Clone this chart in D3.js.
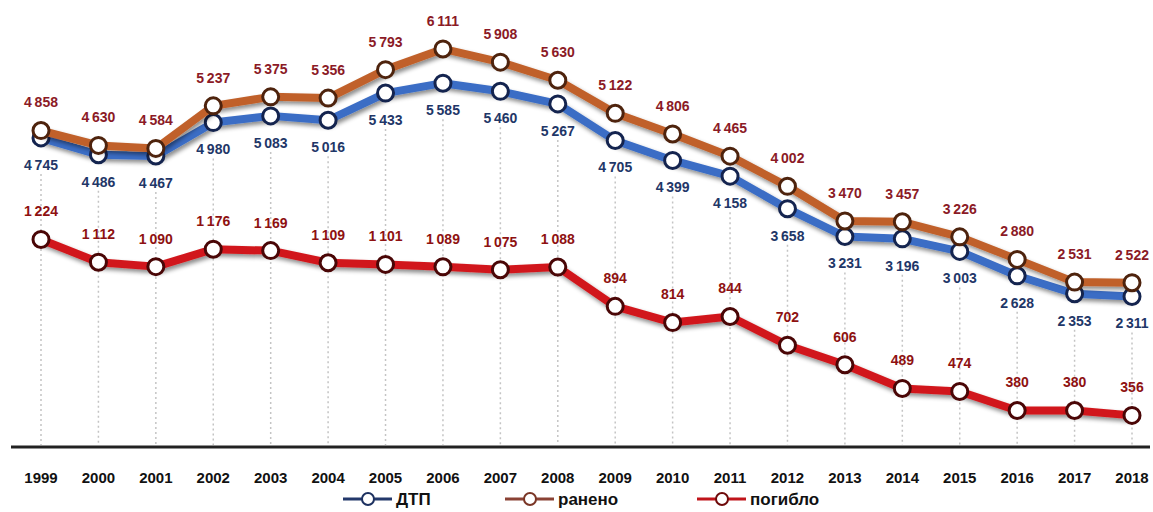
<!DOCTYPE html>
<html>
<head>
<meta charset="utf-8">
<script src="https://cdn.jsdelivr.net/npm/d3@7"></script>
<style>
  html, body { margin: 0; padding: 0; background: #fff; }
  svg { display: block; }
</style>
</head>
<body>
<div id="chart"></div>
<script>
const years = ['1999','2000','2001','2002','2003','2004','2005','2006','2007','2008',
               '2009','2010','2011','2012','2013','2014','2015','2016','2017','2018'];
const dtp     = [4745, 4486, 4467, 4980, 5083, 5016, 5433, 5585, 5460, 5267,
                 4705, 4399, 4158, 3658, 3231, 3196, 3003, 2628, 2353, 2311];
const injured = [4858, 4630, 4584, 5237, 5375, 5356, 5793, 6111, 5908, 5630,
                 5122, 4806, 4465, 4002, 3470, 3457, 3226, 2880, 2531, 2522];
const killed  = [1224, 1112, 1090, 1176, 1169, 1109, 1101, 1089, 1075, 1088,
                 894, 814, 844, 702, 606, 489, 474, 380, 380, 356];

const width = 1153, height = 512;
const baseY = 447;

const svg = d3.select('#chart').append('svg')
  .attr('width', width)
  .attr('height', height);

// shadow under the thick lines
const defs = svg.append('defs');
const f = defs.append('filter').attr('id', 'shadow')
  .attr('x', '-5%').attr('y', '-20%').attr('width', '110%').attr('height', '140%');
f.append('feDropShadow')
  .attr('dx', 2).attr('dy', 3).attr('stdDeviation', 2)
  .attr('flood-color', '#000').attr('flood-opacity', 0.45);

const x = d3.scalePoint().domain(years).range([41, 1132]);
// main axis (ДТП, ранено) and secondary axis (погибло)
const y1 = d3.scaleLinear().domain([0, 7000]).range([baseY, -9]);
const y2 = d3.scaleLinear().domain([200, 2450]).range([baseY, -9]);

const fmt = v => d3.format(',')(v).replace(',', '\u2009');
const labelFont = '"Liberation Sans", Arial, sans-serif';

// dotted drop lines
svg.append('g').selectAll('line')
  .data(years)
  .enter().append('line')
  .attr('x1', d => x(d)).attr('x2', d => x(d))
  .attr('y1', (d, i) => y1(dtp[i]) + 36)
  .attr('y2', baseY - 2)
  .attr('stroke', '#c4c4c4')
  .attr('stroke-width', 1.5)
  .attr('stroke-dasharray', '2,3');

// baseline
svg.append('line')
  .attr('x1', 11).attr('x2', 1150)
  .attr('y1', baseY).attr('y2', baseY)
  .attr('stroke', '#222').attr('stroke-width', 3);

// year labels
svg.append('g').selectAll('text')
  .data(years)
  .enter().append('text')
  .attr('x', d => x(d))
  .attr('y', 478)
  .attr('dy', '0.35em')
  .attr('text-anchor', 'middle')
  .style('font-family', labelFont)
  .style('font-size', '15px')
  .style('font-weight', 'bold')
  .style('fill', '#111')
  .text(d => d);

const series = [
  { name: 'погибло', values: killed, y: y2, line: '#d1181c', ring: '#4a0606', label: '#8e1111', dy: -28 },
  { name: 'ДТП', values: dtp, y: y1, line: '#3b6dc5', ring: '#14244f', label: '#1f3768', dy: 27 },
  { name: 'ранено', values: injured, y: y1, line: '#c0612b', ring: '#4e230d', label: '#8b1a26', dy: -28 }
];

series.forEach(s => {
  const g = svg.append('g');
  const line = d3.line()
    .x((d, i) => x(years[i]))
    .y(d => s.y(d));

  g.append('path')
    .datum(s.values)
    .attr('d', line)
    .attr('fill', 'none')
    .attr('stroke', s.line)
    .attr('stroke-width', 8)
    .attr('stroke-linejoin', 'round')
    .attr('filter', 'url(#shadow)');

  g.selectAll('circle')
    .data(s.values)
    .enter().append('circle')
    .attr('cx', (d, i) => x(years[i]))
    .attr('cy', d => s.y(d))
    .attr('r', 8)
    .attr('fill', '#fff')
    .attr('stroke', s.ring)
    .attr('stroke-width', 3);
});

// data labels on top
series.forEach(s => {
  svg.append('g').selectAll('text')
    .data(s.values)
    .enter().append('text')
    .attr('x', (d, i) => x(years[i]))
    .attr('y', d => s.y(d) + s.dy)
    .attr('dy', '0.35em')
    .attr('text-anchor', 'middle')
    .style('font-family', labelFont)
    .style('font-size', '14px')
    .style('font-weight', 'bold')
    .style('fill', s.label)
    .text(d => fmt(d));
});

// legend
const legend = [
  { name: 'ДТП', x: 343, line: '#23386b', ring: '#1d3160' },
  { name: 'ранено', x: 505, line: '#8a4234', ring: '#7a3626' },
  { name: 'погибло', x: 697, line: '#c0141a', ring: '#6e0a0a' }
];
const lg = svg.append('g').selectAll('g')
  .data(legend)
  .enter().append('g')
  .attr('transform', d => `translate(${d.x},499)`);

lg.append('line')
  .attr('x1', 0).attr('x2', 49)
  .attr('stroke', d => d.line)
  .attr('stroke-width', 3);

lg.append('circle')
  .attr('cx', 25)
  .attr('r', 6)
  .attr('fill', '#fff')
  .attr('stroke', d => d.ring)
  .attr('stroke-width', 2);

lg.append('text')
  .attr('x', 53)
  .attr('dy', '0.35em')
  .style('font-family', labelFont)
  .style('font-size', '17px')
  .style('font-weight', 'bold')
  .style('fill', '#111')
  .text(d => d.name);
</script>
</body>
</html>
